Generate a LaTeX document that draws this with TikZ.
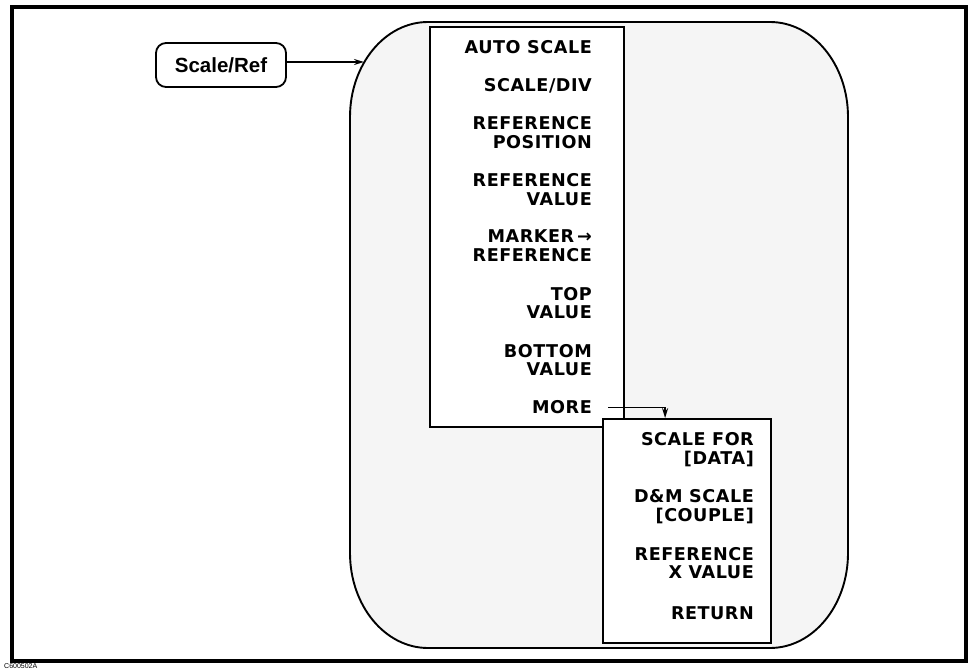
\documentclass[tikz,border=0pt]{standalone}
\usepackage{fontspec}
\usetikzlibrary{arrows.meta,calc}
\newfontfamily\menufont[LetterSpace=3.0]{DejaVu Sans}
\newfontfamily\keyfont{Liberation Sans}
\begin{document}
\begin{tikzpicture}[x=1pt,y=-1pt,
  menutext/.style={anchor=east,align=right,inner sep=0pt,
    font=\menufont\bfseries\fontsize{17.6}{18.5}\selectfont},
  menubox/.style={draw,line width=1.8pt,fill=white,inner sep=0pt},
  arr/.style={line width=1.6pt,-{Stealth[length=10pt,width=6pt]}},
  shapeline/.style={draw,line width=1.9pt,fill=black!4}]
\useasboundingbox (0,0) rectangle (973,671);
% outer frame
\draw[line width=3.5pt] (12,7) rectangle (966,661);
\node[anchor=west,inner sep=0pt,font=\keyfont\fontsize{7}{7}\selectfont] (figid) at (4,666) {C600502A};
% big rounded region
\draw[shapeline] (428,22) -- (770,22) .. controls (813.1,22) and (848,64.5) .. (848,117)
  -- (848,553) .. controls (848,605.5) and (813.1,648) .. (770,648)
  -- (428,648) .. controls (384.9,648) and (350,605.5) .. (350,553)
  -- (350,117) .. controls (350,64.5) and (384.9,22) .. cycle;
% hardkey
\node[draw,line width=1.8pt,rounded corners=10pt,minimum width=130pt,minimum height=44pt,inner sep=0pt,
  font=\keyfont\bfseries\fontsize{20.5}{22}\selectfont] (scaleref) at (221,65) {Scale/Ref};
\coordinate (tip) at (364,62);
\draw[arr] (scaleref.east) ++(0,-3) -- (tip);
% first menu
\node[menubox,minimum width=194pt,minimum height=400pt] (menu1) at (527,227) {};
\node[menutext] (autoscale) at (592,47) {AUTO SCALE};
\node[menutext] (scalediv) at (592,86) {SCALE/DIV};
\node[menutext] (refpos) at (592,132.5) {REFERENCE\\POSITION};
\node[menutext] (refval) at (592,189.5) {REFERENCE\\VALUE};
\node[menutext] (mkref) at (592,245.5) {MARKER\,→\\REFERENCE};
\node[menutext] (topval) at (592,303) {TOP\\VALUE};
\node[menutext] (botval) at (592,360) {BOTTOM\\VALUE};
\node[menutext] (more) at (592,407.5) {MORE};
% second menu
\node[menubox,minimum width=168pt,minimum height=224pt] (menu2) at (687,531) {};
\node[menutext] (scalefor) at (754,449.5) {SCALE FOR\\{[DATA]}};
\node[menutext] (dmscale) at (754,506.5) {D\&M SCALE\\{[COUPLE]}};
\node[menutext] (refx) at (754,563) {REFERENCE\\X VALUE};
\node[menutext] (ret) at (754,613.5) {RETURN};
\draw[arr] ([xshift=16pt]more.east) -| ([xshift=63pt]menu2.north west);
\end{tikzpicture}
\end{document}
